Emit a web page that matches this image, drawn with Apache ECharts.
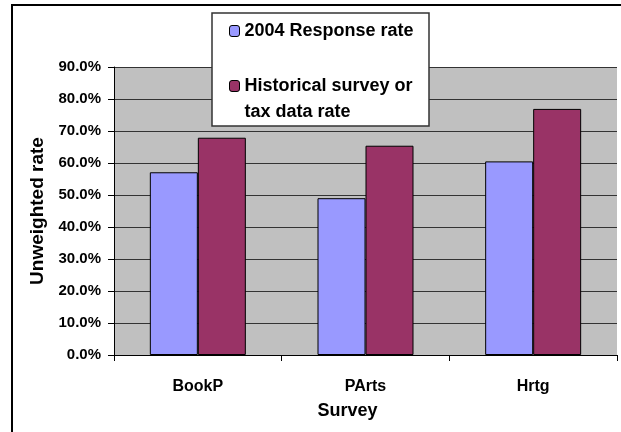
<!DOCTYPE html>
<html>
<head>
<meta charset="utf-8">
<script src="https://cdn.jsdelivr.net/npm/echarts@6/dist/echarts.min.js"></script>
<style>html,body{margin:0;padding:0;background:#fff}#c{width:621px;height:432px}</style>
</head>
<body>
<div id="c"></div>
<script>
const categories = ['BookP', 'PArts', 'Hrtg'];
const seriesNames = ['2004 Response rate', 'Historical survey or\ntax data rate'];
const responseRate = [57.1, 49.0, 60.5];
const historicalRate = [67.9, 65.4, 76.9];
const yTicks = [0, 10, 20, 30, 40, 50, 60, 70, 80, 90];

const FONT = '"Liberation Sans", Arial, sans-serif';
const chart = echarts.init(document.getElementById('c'), null, {renderer: 'canvas'});
chart.setOption({
  backgroundColor: '#fff',
  animation: false,
  textStyle: {fontFamily: FONT},
  graphic: [
    {type: 'rect', shape: {x: 12, y: 5, width: 700, height: 500}, style: {fill: 'none', stroke: '#000', lineWidth: 2}, z: 0},
    {type: 'rect', shape: {x: 212, y: 13, width: 217, height: 113}, style: {fill: '#fff', stroke: '#333', lineWidth: 1.5}, z: 10}
  ],
  grid: {left: 114, right: 4, top: 67, bottom: 77, show: true, backgroundColor: '#c0c0c0', borderWidth: 0},
  legend: [
    {data: [{name: seriesNames[0]}], left: 229, top: 18, padding: 0, orient: 'vertical',
     itemWidth: 10, itemHeight: 11, itemGap: 0, z: 20,
     itemStyle: {borderColor: '#000', borderWidth: 1},
     textStyle: {fontFamily: FONT, fontWeight: 'bold', fontSize: 18, color: '#000', lineHeight: 26}},
    {data: [{name: seriesNames[1]}], left: 229, top: 47, padding: 0, orient: 'vertical',
     itemWidth: 10, itemHeight: 11, itemGap: 0, z: 20,
     formatter: name => '\n' + name,
     itemStyle: {borderColor: '#000', borderWidth: 1},
     textStyle: {fontFamily: FONT, fontWeight: 'bold', fontSize: 18, color: '#000', lineHeight: 26}}
  ],
  xAxis: {
    type: 'category', data: categories,
    name: 'Survey', nameLocation: 'middle', nameGap: 47,
    nameTextStyle: {fontFamily: FONT, fontWeight: 'bold', fontSize: 18, color: '#000', padding: [0, 36, 0, 0]},
    axisLine: {lineStyle: {color: '#000', width: 1}},
    axisTick: {show: true, length: 6, lineStyle: {color: '#000'}},
    axisLabel: {fontFamily: FONT, fontWeight: 'bold', fontSize: 16, color: '#000', margin: 24},
    splitLine: {show: false}
  },
  yAxis: {
    type: 'value', min: yTicks[0], max: yTicks[yTicks.length - 1], interval: 10,
    name: 'Unweighted rate', nameLocation: 'middle', nameGap: 67,
    nameTextStyle: {fontFamily: FONT, fontWeight: 'bold', fontSize: 19, color: '#000'},
    axisLine: {show: true, lineStyle: {color: '#000', width: 1}},
    axisTick: {show: true, length: 6, lineStyle: {color: '#000'}},
    axisLabel: {fontFamily: FONT, fontWeight: 'bold', fontSize: 15, color: '#000', margin: 13,
      formatter: v => v.toFixed(1) + '%'},
    splitLine: {show: true, lineStyle: {color: '#333', width: 1.2}}
  },
  series: [
    {name: seriesNames[0], type: 'bar', data: responseRate, barWidth: 48, barGap: '0%',
     itemStyle: {color: '#9999ff', borderColor: '#000', borderWidth: 1}},
    {name: seriesNames[1], type: 'bar', data: historicalRate, barWidth: 48, barGap: '0%',
     itemStyle: {color: '#993366', borderColor: '#000', borderWidth: 1}}
  ]
});
</script>
</body>
</html>
